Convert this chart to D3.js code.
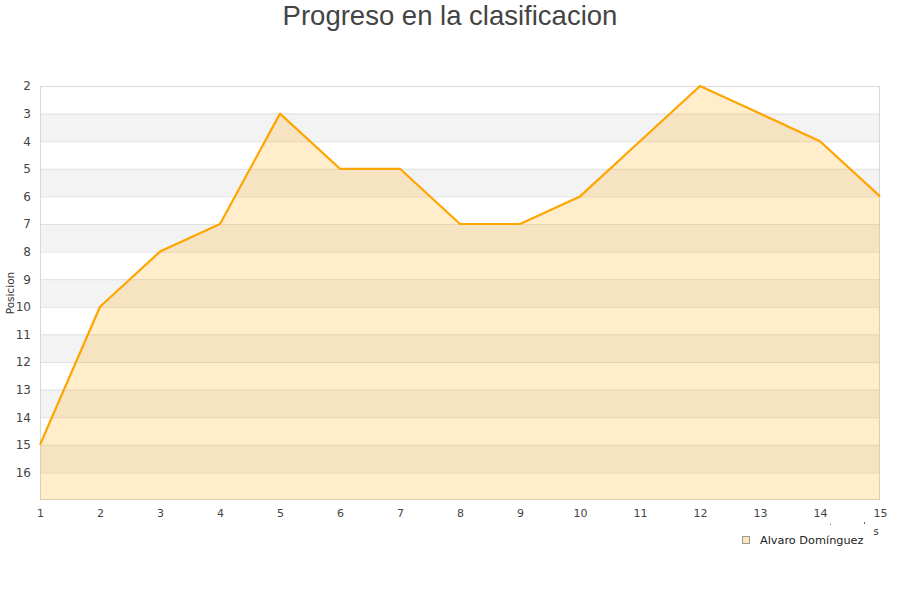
<!DOCTYPE html>
<html><head><meta charset="utf-8">
<script src="https://cdn.jsdelivr.net/npm/d3@7"></script>
<style>body{margin:0;background:#fff;}svg{display:block;font-family:"DejaVu Sans",sans-serif;}</style>
</head><body>
<svg id="c" width="900" height="600"></svg>
<script>
const jornadas = [1,2,3,4,5,6,7,8,9,10,11,12,13,14,15];
const posiciones = [15,10,8,7,3,5,5,7,7,6,4,2,3,4,6];
const yTicks = [2,3,4,5,6,7,8,9,10,11,12,13,14,15,16];
const seriesName = "Alvaro Domínguez";
const title = "Progreso en la clasificacion";
const yTitle = "Posicion";

const svg = d3.select("#c");
const m = {l:40, r:880, t:86, b:500};
const x = d3.scaleLinear().domain([1,15]).range([m.l, m.r]);
const y = d3.scaleLinear().domain([2,17]).range([m.t, m.b]);

// stripes
const bands = d3.range(2,17);
svg.append("g").selectAll("rect").data(bands).join("rect")
  .attr("x", m.l).attr("width", m.r-m.l)
  .attr("y", d=>y(d)).attr("height", d=>y(d+1)-y(d))
  .attr("fill", d=> d%2===1 ? "#f3f3f3" : "#ffffff");
// grid lines
svg.append("g").selectAll("line").data(d3.range(3,17)).join("line")
  .attr("x1", m.l).attr("x2", m.r).attr("y1", d=>y(d)+0.5).attr("y2", d=>y(d)+0.5)
  .attr("stroke", "#e0e0e0").attr("stroke-width",1);
// border
svg.append("rect").attr("x", m.l+0.5).attr("y", m.t+0.5).attr("width", m.r-m.l-1).attr("height", m.b-m.t-1)
  .attr("fill","none").attr("stroke","#d8d8d8");

const pts = jornadas.map((j,i)=>[j, posiciones[i]]);
svg.append("path").datum(pts)
  .attr("d", d3.area().x(d=>x(d[0])).y0(y(17)).y1(d=>y(d[1])))
  .attr("fill", "#ffa500").attr("fill-opacity", 0.2);
svg.append("path").datum(pts)
  .attr("d", d3.line().x(d=>x(d[0])).y(d=>y(d[1])))
  .attr("fill","none").attr("stroke","#ffa500").attr("stroke-width",2.2).attr("stroke-linejoin","round");

// y axis labels
const ya = svg.append("g").attr("transform", `translate(${m.l},0)`)
  .call(d3.axisLeft(y).tickValues(yTicks).tickSize(0).tickPadding(9).tickFormat(d3.format("d")));
ya.select(".domain").remove();
ya.selectAll("text").attr("font-size", 12).attr("fill", "#444").attr("font-family","DejaVu Sans, sans-serif");

// x axis labels
const xa = svg.append("g").attr("transform", `translate(0,${m.b})`)
  .call(d3.axisBottom(x).tickValues(jornadas).tickSize(0).tickPadding(9).tickFormat(d3.format("d")));
xa.select(".domain").remove();
xa.selectAll("text").attr("font-size", 11).attr("fill", "#444").attr("font-family","DejaVu Sans, sans-serif");

// title
svg.append("text").attr("x", 450).attr("y", 25).attr("text-anchor","middle")
  .attr("font-family","Liberation Sans, Arial, sans-serif").attr("font-size", 27.5).attr("fill","#444").text(title);

// y title
svg.append("text").attr("transform","translate(14,293) rotate(-90)").attr("text-anchor","middle")
  .attr("font-size", 10.5).attr("fill","#333").text(yTitle);

// clipped x title fragment
svg.append("text").attr("x", 876).attr("y", 535).attr("text-anchor","middle")
  .attr("font-size", 10).attr("fill","#333").text("s");
svg.append("rect").attr("x",830).attr("y",524).attr("width",1).attr("height",1).attr("fill","#666");
svg.append("rect").attr("x",864).attr("y",522).attr("width",1).attr("height",2).attr("fill","#666");

// legend
svg.append("rect").attr("x", 742.5).attr("y", 536.5).attr("width", 7).attr("height", 7)
  .attr("fill","#ffe8b8").attr("stroke","#999");
svg.append("text").attr("x", 760).attr("y", 544).attr("font-size", 11.3).attr("fill","#222").text(seriesName);
</script>
</body></html>
